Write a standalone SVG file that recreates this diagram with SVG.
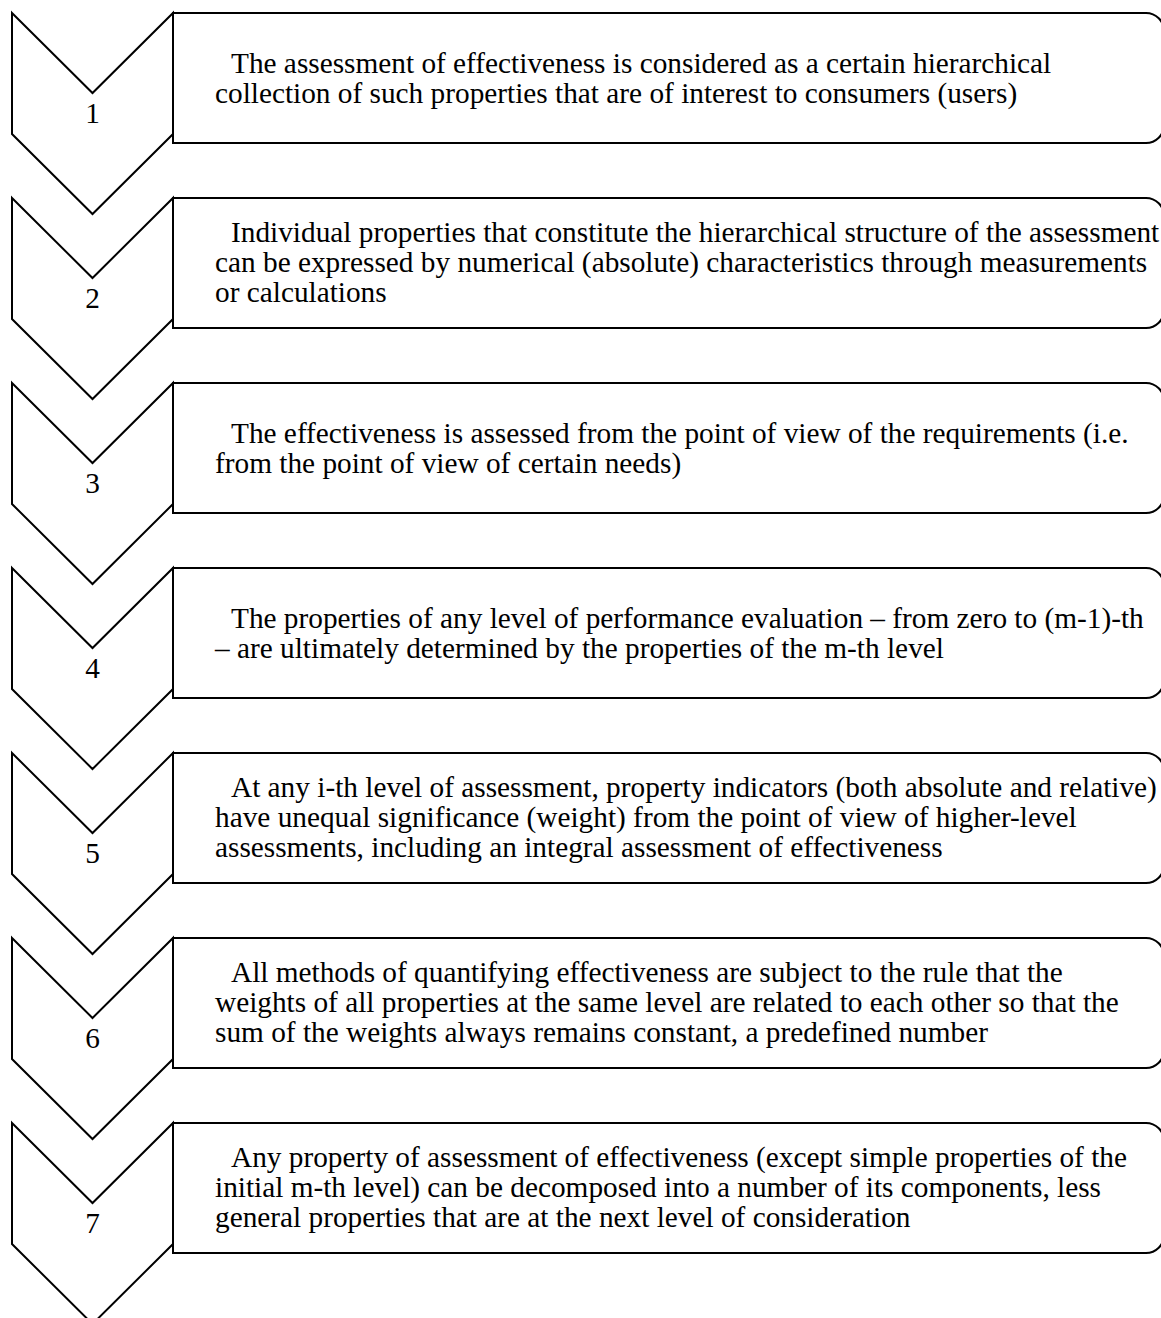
<svg xmlns="http://www.w3.org/2000/svg" width="1161" height="1318" viewBox="0 0 1161 1318">
<defs>
<style>
.chev{fill:#fff;stroke:#000;stroke-width:2;stroke-linejoin:miter}
.box{fill:#fff;stroke:#000;stroke-width:2}
.t{font-family:"Liberation Serif","Times New Roman",serif;font-size:29.3px;fill:#000}
.num{font-family:"Liberation Serif","Times New Roman",serif;font-size:29.3px;fill:#000;text-anchor:middle}
</style>
<path id="chevShape" d="M12,0 L92.5,80 L173,0 L173,121 L92.5,201 L12,121 Z"/>
<path id="boxShape" d="M173,0 H1146 A18,18 0 0 1 1164,18 V112 A18,18 0 0 1 1146,130 H173 Z"/>
</defs>
<rect width="1161" height="1318" fill="#fff"/>
<g id="connectors"></g>
<g id="step1" transform="translate(0,13)">
<use href="#chevShape" class="chev"/>
<use href="#boxShape" class="box"/>
<text class="num" x="92.5" y="110">1</text>
<text class="t" x="231" y="60">The assessment of effectiveness is considered as a certain hierarchical</text>
<text class="t" x="215" y="90">collection of such properties that are of interest to consumers (users)</text>
</g>
<g id="step2" transform="translate(0,198)">
<use href="#chevShape" class="chev"/>
<use href="#boxShape" class="box"/>
<text class="num" x="92.5" y="110">2</text>
<text class="t" x="231" y="44">Individual properties that constitute the hierarchical structure of the assessment</text>
<text class="t" x="215" y="74">can be expressed by numerical (absolute) characteristics through measurements</text>
<text class="t" x="215" y="104">or calculations</text>
</g>
<g id="step3" transform="translate(0,383)">
<use href="#chevShape" class="chev"/>
<use href="#boxShape" class="box"/>
<text class="num" x="92.5" y="110">3</text>
<text class="t" x="231" y="60">The effectiveness is assessed from the point of view of the requirements (i.e.</text>
<text class="t" x="215" y="90">from the point of view of certain needs)</text>
</g>
<g id="step4" transform="translate(0,568)">
<use href="#chevShape" class="chev"/>
<use href="#boxShape" class="box"/>
<text class="num" x="92.5" y="110">4</text>
<text class="t" x="231" y="60">The properties of any level of performance evaluation – from zero to (m-1)-th</text>
<text class="t" x="215" y="90">– are ultimately determined by the properties of the m-th level</text>
</g>
<g id="step5" transform="translate(0,753)">
<use href="#chevShape" class="chev"/>
<use href="#boxShape" class="box"/>
<text class="num" x="92.5" y="110">5</text>
<text class="t" x="231" y="44">At any i-th level of assessment, property indicators (both absolute and relative)</text>
<text class="t" x="215" y="74">have unequal significance (weight) from the point of view of higher-level</text>
<text class="t" x="215" y="104">assessments, including an integral assessment of effectiveness</text>
</g>
<g id="step6" transform="translate(0,938)">
<use href="#chevShape" class="chev"/>
<use href="#boxShape" class="box"/>
<text class="num" x="92.5" y="110">6</text>
<text class="t" x="231" y="44">All methods of quantifying effectiveness are subject to the rule that the</text>
<text class="t" x="215" y="74">weights of all properties at the same level are related to each other so that the</text>
<text class="t" x="215" y="104">sum of the weights always remains constant, a predefined number</text>
</g>
<g id="step7" transform="translate(0,1123)">
<use href="#chevShape" class="chev"/>
<use href="#boxShape" class="box"/>
<text class="num" x="92.5" y="110">7</text>
<text class="t" x="231" y="44">Any property of assessment of effectiveness (except simple properties of the</text>
<text class="t" x="215" y="74">initial m-th level) can be decomposed into a number of its components, less</text>
<text class="t" x="215" y="104">general properties that are at the next level of consideration</text>
</g>
</svg>
